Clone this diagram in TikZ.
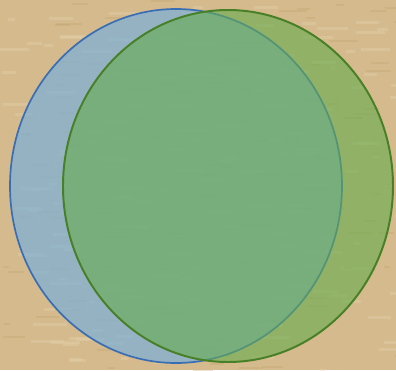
\documentclass[tikz,border=0pt]{standalone}
\usepackage{tikz}
\usetikzlibrary{positioning}
\usepackage{xcolor}
\definecolor{parchment}{RGB}{212,186,140}
\definecolor{parchlight}{RGB}{232,212,176}
\definecolor{parchdark}{RGB}{190,160,110}
\definecolor{setblue}{RGB}{58,110,180}
\definecolor{setbluefill}{RGB}{125,176,215}
\definecolor{setgreen}{RGB}{72,128,40}
\definecolor{setgreenfill}{RGB}{100,172,78}

\begin{document}
\begin{tikzpicture}[x=0.025cm, y=-0.025cm,
    setA/.style={draw=setblue, line width=1.2pt, fill=setbluefill, fill opacity=0.72},
    setB/.style={draw=setgreen, line width=1.4pt, fill=setgreenfill, fill opacity=0.6}
]
    \useasboundingbox (0,0) rectangle (396,370);
    \clip (0,0) rectangle (396,370);

    % parchment background
    \fill[parchment] (0,0) rectangle (396,370);
    \pgfmathsetseed{7}
    \foreach \i in {1,...,160} {
        \pgfmathsetmacro{\px}{rnd*396}
        \pgfmathsetmacro{\py}{rnd*370}
        \pgfmathsetmacro{\pw}{4+rnd*30}
        \fill[parchlight, opacity=0.35] (\px,\py) rectangle ++(\pw,3);
    }
    \foreach \i in {1,...,120} {
        \pgfmathsetmacro{\px}{rnd*396}
        \pgfmathsetmacro{\py}{rnd*370}
        \pgfmathsetmacro{\pw}{4+rnd*25}
        \fill[parchdark, opacity=0.3] (\px,\py) rectangle ++(\pw,2);
    }

    % the two sets
    \draw[setA] (176,186) ellipse [x radius=166, y radius=177];
    \draw[setB] (228,186) ellipse [x radius=165, y radius=176];
\end{tikzpicture}
\end{document}
